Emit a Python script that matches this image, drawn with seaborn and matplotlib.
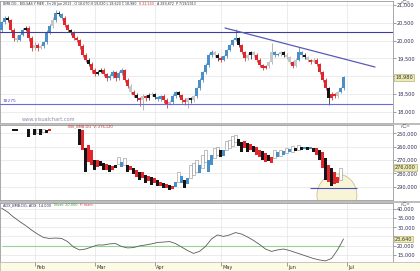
import numpy as np
import matplotlib
matplotlib.use("Agg")
import matplotlib.pyplot as plt
import matplotlib.text as mtext
import seaborn as sns
from matplotlib.patches import Ellipse

sns.set_theme(style="white")
plt.rcParams['font.family'] = ['DejaVu Sans']

# ---------------- data ----------------
month_labels = ["Feb", "Mar", "Apr", "May", "Jun", "Jul"]
month_start_idx = [11, 31, 51, 73, 95, 115]

p_open = [20.300, 20.525, 20.635, 20.580, 20.300, 20.075, 20.020, 20.160, 20.300, 20.355,
          20.075, 19.795, 19.880, 19.795, 19.850, 19.960, 20.245, 20.410, 20.580, 20.775,
          20.745, 20.635, 20.440, 20.300, 20.215, 20.075, 20.020, 19.850, 19.600, 19.460,
          19.345, 19.175, 19.065, 19.120, 19.175, 19.065, 18.955, 19.010, 19.120, 18.955,
          19.095, 19.175, 18.895, 18.730, 18.560, 18.475, 18.390, 18.335, 18.450, 18.390,
          18.475, 18.505, 18.420, 18.365, 18.450, 18.335, 18.225, 18.280, 18.450, 18.560,
          18.475, 18.335, 18.280, 18.390, 18.335, 18.450, 18.670, 18.895, 19.120, 19.315,
          19.600, 19.680, 19.600, 19.515, 19.460, 19.570, 19.740, 19.880, 20.020, 20.075,
          19.880, 19.680, 19.515, 19.600, 19.680, 19.600, 19.460, 19.315, 19.235, 19.290,
          19.400, 19.680, 19.600, 19.625, 19.680, 19.600, 19.540, 19.400, 19.290, 19.460,
          19.680, 19.600, 19.540, 19.460, 19.400, 19.460, 19.345, 19.120, 18.895, 18.670,
          18.390, 18.505, 18.450, 18.560, 18.670]
p_close = [20.525, 20.635, 20.580, 20.300, 20.075, 20.020, 20.160, 20.300, 20.355, 20.075,
           19.795, 19.880, 19.795, 19.850, 19.960, 20.245, 20.410, 20.580, 20.775, 20.745,
           20.635, 20.440, 20.300, 20.215, 20.075, 20.020, 19.850, 19.600, 19.460, 19.345,
           19.175, 19.065, 19.120, 19.175, 19.065, 18.955, 19.010, 19.120, 18.955, 19.095,
           19.175, 18.895, 18.730, 18.560, 18.475, 18.390, 18.335, 18.450, 18.390, 18.475,
           18.505, 18.420, 18.365, 18.450, 18.335, 18.225, 18.280, 18.450, 18.560, 18.475,
           18.335, 18.280, 18.390, 18.335, 18.450, 18.670, 18.895, 19.120, 19.315, 19.600,
           19.680, 19.600, 19.515, 19.460, 19.570, 19.740, 19.880, 20.020, 20.075, 19.880,
           19.680, 19.515, 19.600, 19.680, 19.600, 19.460, 19.315, 19.235, 19.290, 19.400,
           19.680, 19.600, 19.625, 19.680, 19.600, 19.540, 19.400, 19.290, 19.460, 19.680,
           19.600, 19.540, 19.460, 19.400, 19.460, 19.345, 19.120, 18.895, 18.670, 18.390,
           18.505, 18.450, 18.560, 18.670, 18.980]
p_high = [20.560, 20.700, 20.700, 20.620, 20.350, 20.150, 20.200, 20.360, 20.420, 20.400,
          20.120, 19.950, 19.930, 19.900, 20.000, 20.290, 20.480, 20.650, 20.860, 20.830,
          20.780, 20.680, 20.480, 20.340, 20.260, 20.120, 20.060, 19.900, 19.650, 19.520,
          19.400, 19.230, 19.170, 19.230, 19.230, 19.100, 19.060, 19.170, 19.160, 19.140,
          19.230, 19.210, 18.940, 18.780, 18.620, 18.520, 18.430, 18.500, 18.480, 18.520,
          18.560, 18.540, 18.460, 18.490, 18.500, 18.380, 18.330, 18.500, 18.600, 18.600,
          18.510, 18.380, 18.420, 18.430, 18.490, 18.700, 18.940, 19.160, 19.360, 19.640,
          19.750, 19.720, 19.640, 19.560, 19.610, 19.780, 19.920, 20.060, 20.330, 20.110,
          19.920, 19.720, 19.650, 19.720, 19.700, 19.640, 19.500, 19.350, 19.320, 19.440,
          19.935, 19.700, 19.660, 19.720, 19.720, 19.640, 19.580, 19.440, 19.500, 19.820,
          19.720, 19.640, 19.580, 19.480, 19.500, 19.500, 19.380, 19.160, 18.940, 18.700,
          18.560, 18.540, 18.600, 18.710, 19.020]
p_low = [20.240, 20.480, 20.520, 20.250, 20.000, 19.950, 19.980, 20.120, 20.260, 20.000,
         19.700, 19.740, 19.720, 19.760, 19.800, 19.920, 20.200, 20.360, 20.530, 20.700,
         20.580, 20.380, 20.250, 20.160, 20.020, 19.950, 19.780, 19.540, 19.400, 19.280,
         19.100, 19.000, 19.040, 19.080, 19.000, 18.880, 18.900, 18.960, 18.880, 18.900,
         19.040, 18.840, 18.660, 18.500, 18.410, 18.300, 18.170, 18.055, 18.320, 18.340,
         18.440, 18.360, 18.300, 18.320, 18.260, 18.110, 18.200, 18.230, 18.400, 18.420,
         18.260, 18.200, 18.110, 18.260, 18.290, 18.400, 18.620, 18.850, 19.060, 19.260,
         19.540, 19.540, 19.440, 19.400, 19.420, 19.520, 19.700, 19.840, 19.980, 19.820,
         19.620, 19.440, 19.460, 19.480, 19.540, 19.400, 19.260, 19.180, 19.200, 19.240,
         19.350, 19.540, 19.560, 19.560, 19.540, 19.480, 19.340, 19.240, 19.250, 19.420,
         19.540, 19.480, 19.400, 19.340, 19.360, 19.300, 19.060, 18.840, 18.620, 18.195,
         18.330, 18.380, 18.400, 18.520, 18.620]
p_colors = ("BBKRRGBBKR" "RGRGBBBGBK" "BRRKRRRRRK" "RRKKRRBBRB" "BRRGRKRGRK"
            "GKBBRRGBBK" "RRGKGBBBBB" "BGKRBBBBBK" "RRGKGRRRRG" "GBBGKGGRGB"
            "BKGRGRRRRK" "RRGBB")

resistance_level = 20.235
support_level = 18.224
trend_start = (74.5, 20.355)
trend_end = (124.5, 19.261)

# second panel (inverted scale)
p2_index = [4, 5, 9, 11, 12, 13, 14, 15, 16] + list(range(26, 114))
p2_top = [246.8, 246.8, 246.8, 246.8, 246.8, 246.8, 246.8, 247.5, 246.8,
          246.8, 247.5, 261.0, 258.8, 262.5, 270.0, 270.0, 270.8, 272.3, 273.0,
          273.8, 274.5, 273.8, 267.8, 271.5, 268.5, 273.8, 274.5, 276.0, 277.5,
          279.0, 279.0, 281.3, 282.0, 282.8, 283.5, 285.0, 286.5, 287.3, 288.0,
          288.8, 289.5, 286.5, 279.0, 282.0, 285.0, 283.5, 273.8, 272.3, 270.0,
          273.8, 266.3, 262.5, 270.0, 266.3, 261.0, 260.3, 262.5, 262.5, 255.8,
          255.0, 252.0, 251.3, 254.3, 256.5, 255.8, 257.3, 258.0, 259.5, 260.3,
          262.5, 263.3, 264.8, 266.3, 267.8, 262.5, 264.0, 262.5, 263.3, 261.0,
          261.8, 259.5, 261.0, 258.8, 260.3, 260.3, 260.3, 260.3, 261.0, 261.0,
          262.5, 264.0, 268.5, 273.8, 276.0, 279.0, 282.8, 276.0]
p2_bot = [248.3, 248.3, 252.8, 251.3, 249.8, 251.3, 249.0, 249.8, 248.3,
          258.8, 262.5, 279.0, 271.5, 273.8, 277.5, 275.3, 274.5, 277.5, 277.5,
          279.0, 277.5, 276.0, 273.0, 275.3, 273.8, 279.0, 277.5, 280.5, 282.8,
          285.0, 283.5, 287.3, 285.8, 288.8, 287.3, 289.5, 289.5, 291.0, 291.0,
          292.5, 291.8, 290.3, 286.5, 287.3, 291.0, 288.0, 283.5, 281.3, 279.0,
          279.8, 276.0, 271.5, 279.0, 273.8, 268.5, 266.3, 267.8, 267.0, 262.5,
          261.0, 259.5, 256.5, 259.5, 264.0, 261.0, 264.0, 262.5, 264.0, 266.3,
          267.8, 270.0, 271.5, 270.8, 272.3, 268.5, 267.8, 267.0, 266.3, 264.8,
          264.0, 264.0, 263.3, 262.5, 262.5, 261.8, 262.5, 261.8, 264.0, 266.3,
          270.0, 276.0, 285.0, 286.5, 289.5, 288.0, 287.3, 285.0]
p2_colors = ("KKKKGKGKR"
             "KRKRRKRKKR" "KRKGBGKRKR" "KRKRKRKRKR" "KRBGBKBGGG" "BGGBBGGKBG"
             "GGGKKRKRKR" "RKRKRGBGBG" "BGKGKBKBKR" "KRKRKRRG")
p2_level = 291.0
p2_level_span = (102.8, 118.5)

# ADX panel
adx_index = list(range(0, 115, 2))
adx_values = [40.5, 38.4, 35.6, 33.2, 31.0, 28.5, 26.3, 24.4, 23.9, 24.1,
              23.9, 22.2, 19.2, 17.6, 18.1, 19.2, 20.3, 20.3, 20.9, 21.1,
              19.5, 18.7, 18.9, 19.8, 20.3, 20.9, 21.7, 21.9, 22.2, 21.1,
              19.2, 17.3, 15.7, 16.8, 19.5, 23.6, 25.8, 25.0, 25.8, 27.1,
              26.3, 24.7, 22.8, 20.6, 18.1, 16.8, 17.6, 18.1, 17.3, 16.2,
              15.1, 14.0, 12.9, 12.1, 11.6, 12.9, 17.6, 23.6]
adx_level = 20.0

p1_ticks = [18.0, 18.5, 19.0, 19.5, 20.0, 20.5, 21.0]
p2_ticks = [250, 260, 270, 280, 290]
p3_ticks = [15, 20, 25, 30, 35, 40]
# tick labels hidden behind the last-value boxes
p1_hidden = [19.0]
p3_hidden = [25]

header1 = [("BMB.DG - BOLSAS Y MER - Fri 28 Jun 2013 - O 18,670 H 19,020 L 18,620 C 18,980", '#333344'),
           ("V 22,533", '#d02020'),
           ("A 289,872  P 7/19/2013", '#333344')]
header3 = [("ADX_BMB.DG, ADX: 14.000", '#2c2c60'),
           ("Nivel: 20.000", '#30a030'),
           ("F: Inact.", '#d03030')]

# ---------------- figure ----------------
W, H = 420, 271
fig = plt.figure(figsize=(W / 100, H / 100), dpi=100)
fig.patch.set_facecolor("white")


def add_ax(top, bot, right=393):
    return fig.add_axes([0, 1 - bot / H, right / W, (bot - top) / H])


ax1 = add_ax(1, 123)
ax2 = add_ax(125, 200)
ax3 = add_ax(203, 262)
axd = fig.add_axes([0, 0, 1, 9 / H])

XLIM = (-0.5, 130.5)
body_col = {'B': '#4a90c8', 'R': '#e3262b', 'K': '#141414', 'G': '#c6c6c6'}
wick_col = {'B': '#3a78a8', 'R': '#c21e22', 'K': '#141414', 'G': '#9a9a9a'}


def style(ax, ticks, ylim, hidden=()):
    ax.set_xlim(*XLIM)
    ax.set_ylim(*ylim)
    ax.set_facecolor("white")
    ax.yaxis.tick_right()
    ax.set_yticks(ticks)
    ax.set_yticklabels(["" if t in hidden else f"{t:.3f}".replace(".", ",") for t in ticks])
    ax.set_xticks(month_start_idx)
    ax.set_xticklabels([])
    ax.tick_params(axis='y', which='both', right=True, length=2, width=0.5,
                   pad=1, labelsize=3.6, labelcolor='#2c2c55', color='#777777')
    ax.tick_params(axis='x', length=0)
    ax.grid(True, color='#e4e4e4', lw=0.5)
    ax.set_axisbelow(True)
    for s in ax.spines.values():
        s.set_color('#9a9a9a')
        s.set_linewidth(0.6)


style(ax1, p1_ticks, (17.691, 21.112), p1_hidden)
style(ax2, p2_ticks, (300.025, 243.775))
style(ax3, p3_ticks, (11.0, 43.28), p3_hidden)

# ---- panel 1 candles ----
n = len(p_close)
idx = np.arange(n)
cols = (p_colors + "G" * n)[:n]
o = np.array(p_open); c = np.array(p_close)
hi = np.array(p_high); lo = np.array(p_low)
bottoms = np.minimum(o, c)
heights = np.maximum(np.abs(c - o), 0.03)
ax1.vlines(idx, lo, hi, colors=[wick_col[k] for k in cols], lw=0.5, zorder=2)
ax1.bar(idx, heights, bottom=bottoms, width=0.72,
        color=[body_col[k] for k in cols], edgecolor='none', zorder=3)

ax1.axhline(resistance_level, color='#3d3d9e', lw=0.8, zorder=4)
ax1.axhline(support_level, color='#6a6ae0', lw=0.8, zorder=4)
ax1.plot([trend_start[0], trend_end[0]], [trend_start[1], trend_end[1]],
         color='#5a5ab8', lw=0.9, zorder=4)

# ---- panel 2 ----
ax2.add_patch(Ellipse((111.8, 296.5), width=13.3, height=32,
                      facecolor='#f8f5d6', edgecolor='#c9bf9a', lw=0.6, zorder=1))
c2 = (p2_colors + "G" * len(p2_index))[:len(p2_index)]
t2 = np.array(p2_top); b2 = np.array(p2_bot)
for k, i in enumerate(p2_index):
    col = c2[k]
    if col == 'G':
        ax2.bar(i, b2[k] - t2[k], bottom=t2[k], width=0.7, facecolor='white',
                edgecolor='#8e8e8e', lw=0.4, zorder=3)
    else:
        ax2.bar(i, b2[k] - t2[k], bottom=t2[k], width=0.72,
                color=body_col[col], edgecolor='none', zorder=3)
ax2.hlines(p2_level, p2_level_span[0], p2_level_span[1], color='#4f4fc4', lw=0.8, zorder=4)

# ---- panel 3 (ADX) ----
ax3.hlines(adx_level, 0, 114, color='#93d493', lw=0.8, zorder=2)
sns.lineplot(x=adx_index, y=adx_values, ax=ax3, color='#5a5a5a', lw=0.6, zorder=3)
ax3.set_xlabel(""); ax3.set_ylabel("")
ax3.set_xlim(*XLIM)

# ---- date strip ----
axd.set_facecolor('#fdfbe4')
axd.set_xlim(-0.5, W / 3 - 0.5)
axd.set_ylim(0, 1)
axd.set_xticks([]); axd.set_yticks([])
for s in axd.spines.values():
    s.set_color('#b0b0b0'); s.set_linewidth(0.5)
for m, lab in zip(month_start_idx, month_labels):
    axd.vlines(m, 0.55, 1, color='#777777', lw=0.5)
    axd.text(m + 0.6, 0.42, lab, fontsize=3.6, color='#333333', va='center', ha='left')


# ---------------- texts ----------------
def ftext(x, y, s, **kw):
    kw.setdefault('va', 'center')
    kw.setdefault('ha', 'left')
    return fig.text(x / W, 1 - y / H, s, **kw)


def chain_annot(x, y, parts, fs):
    prev = ftext(x, y, parts[0][0], fontsize=fs, color=parts[0][1])
    for s, col in parts[1:]:
        prev = fig.add_artist(mtext.Annotation(
            s, xy=(1, 0.5), xycoords=prev, xytext=(2.0, 0), textcoords='offset points',
            fontsize=fs, color=col, va='center', ha='left'))
    return prev


chain_annot(3, 4, header1, 2.3)
chain_annot(3, 205, header3, 2.5)
ftext(3, 101, "18275", fontsize=3.2, color='#5050c0')
ftext(22, 119.5, "www.visualchart.com", fontsize=3.6, color='#8a8aa8')
ftext(68, 126.5, "INV_BMB.DG  V: 276,120", fontsize=2.6, color='#c03030')
for yy in (2.5, 125.5, 204):
    ftext(401, yy, "ρ□×", fontsize=3.0, color='#555555')

# right-side value boxes
box = dict(boxstyle='square,pad=0.15', facecolor='#ecebb4', edgecolor='#a8a060', lw=0.4)
for yy, s in ((77.5, "18,980"), (167.5, "276,000"), (239, "23,640")):
    ftext(395, yy, s, fontsize=3.6, color='#303030', bbox=box)

# panel separators
for yy in (124, 201.5):
    fig.add_artist(plt.Line2D([0, 1], [1 - yy / H, 1 - yy / H], color='#b8b8b8', lw=1.3))

fig.savefig("out.png", dpi=100, facecolor='white')
